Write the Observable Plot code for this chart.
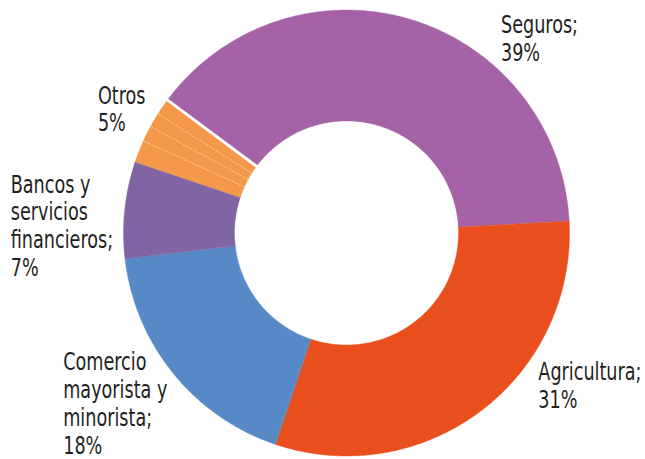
<!DOCTYPE html>
<html>
<head>
<meta charset="utf-8">
<script src="https://cdn.jsdelivr.net/npm/d3@7"></script>
<script src="https://cdn.jsdelivr.net/npm/@observablehq/plot@0.6"></script>
<style>
  html, body { margin: 0; padding: 0; background: #fff; }
  #chart svg { display: block; }
</style>
</head>
<body>
<div id="chart"></div>
<script>
// ---- data ----
const categories = ["Seguros", "Agricultura", "Comercio mayorista y minorista", "Bancos y servicios financieros", "Otros"];
const shares = [39, 31, 18, 7, 5];
const labelTexts = ["Seguros;\n39%", "Agricultura;\n31%", "Comercio\nmayorista y\nminorista;\n18%", "Bancos y\nservicios\nfinancieros;\n7%", "Otros\n5%"];
const otrosParts = [1.6, 1.15, 1.05, 1.2]; // sub-slices inside "Otros"
const colors = ["#A662A6", "#E94F1C", "#5889C7", "#8064A3", "#F4994A"];

// ---- layout / style ----
const W = 645, H = 459;
const cx = 346, cy = 232.5, R = 223;
const innerR = 112 / 223;
const startDeg = -53.4;
const fontFamily = "'Liberation Sans Narrow', 'Arial Narrow', 'DejaVu Sans Condensed', sans-serif";
const fontSize = 24.5;
const condense = 0.8;
// label offsets (px) from the outer edge at each slice's mid angle
const labelDx = [90, 57, -110, -114, -51];
const labelDy = [-6, -50, -23, -37, -46];

// flattened slices (Otros split into its parts)
const slices = [];
categories.forEach((c, i) => {
  if (c === "Otros") otrosParts.forEach((p, j) => slices.push({cat: c, key: c + j, v: p, part: j}));
  else slices.push({cat: c, key: c, v: shares[i], part: -1});
});
const a0 = startDeg * Math.PI / 180;
const arcs = d3.pie().sort(null).value(d => d.v).startAngle(a0).endAngle(a0 + 2 * Math.PI)(slices);

const pt = (a, r) => [Math.sin(a) * r, Math.cos(a) * r];
const rows = [];
arcs.forEach(arc => {
  const n = Math.max(4, Math.ceil((arc.endAngle - arc.startAngle) / 0.01));
  const outer = d3.range(n + 1).map(k => arc.startAngle + (arc.endAngle - arc.startAngle) * k / n);
  outer.forEach(a => { const [x, y] = pt(a, 1); rows.push({key: arc.data.key, cat: arc.data.cat, x, y}); });
  outer.slice().reverse().forEach(a => { const [x, y] = pt(a, innerR); rows.push({key: arc.data.key, cat: arc.data.cat, x, y}); });
});

// dashed separators between Otros parts
const otrosArcs = arcs.filter(a => a.data.cat === "Otros");
const dashLinks = otrosArcs.slice(1).map(a => {
  const [x1, y1] = pt(a.startAngle, innerR), [x2, y2] = pt(a.startAngle, 1);
  return {x1, y1, x2, y2};
});
// white gap between Otros and Seguros
const segArc = arcs.find(a => a.data.cat === "Seguros");
const gapLinks = [(() => {
  const [x1, y1] = pt(segArc.startAngle, innerR - 0.02), [x2, y2] = pt(segArc.startAngle, 1.02);
  return {x1, y1, x2, y2};
})()];

// labels at mid angle of each category
const catAngles = categories.map(c => {
  const as = arcs.filter(a => a.data.cat === c);
  return (as[0].startAngle + as[as.length - 1].endAngle) / 2;
});
const labels = categories.map((c, i) => {
  const [x, y] = pt(catAngles[i], 1);
  return {x, y, text: labelTexts[i], dx: labelDx[i], dy: labelDy[i]};
});

const chart = Plot.plot({
  width: W, height: H,
  marginTop: 0, marginRight: 0, marginBottom: 0, marginLeft: 0,
  x: {domain: [-cx / R, (W - cx) / R], axis: null},
  y: {domain: [-(H - cy) / R, cy / R], axis: null},
  color: {domain: categories, range: colors},
  style: {fontFamily, background: "#fff", overflow: "visible"},
  marks: [
    Plot.line(rows, {x: "x", y: "y", z: "key", fill: "cat", stroke: "cat", strokeWidth: 0.4, curve: "linear-closed"}),
    Plot.link(dashLinks, {x1: "x1", y1: "y1", x2: "x2", y2: "y2", stroke: "#FBD0A8", strokeWidth: 0.9, strokeDasharray: "2,2"}),
    Plot.link(gapLinks, {x1: "x1", y1: "y1", x2: "x2", y2: "y2", stroke: "#fff", strokeWidth: 3}),
    ...labels.map(l => Plot.text([l], {x: "x", y: "y", text: "text", dx: l.dx, dy: l.dy,
      textAnchor: "start", lineAnchor: "top", lineHeight: 1.14, fontSize, fill: "#231F20"}))
  ]
});
// condense label glyphs horizontally (narrow typeface look)
chart.querySelectorAll("g[aria-label='text'] text").forEach(t => {
  const tr = t.getAttribute("transform") || "";
  t.setAttribute("transform", tr + ` scale(${condense},1)`);
});
document.getElementById("chart").appendChild(chart);
</script>
</body>
</html>
